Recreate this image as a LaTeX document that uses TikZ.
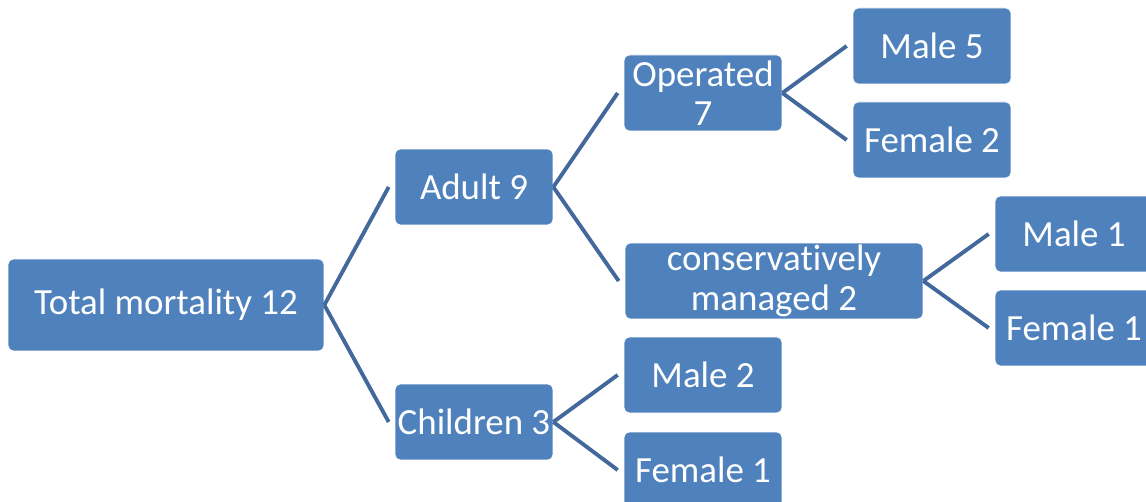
\documentclass[tikz,border=0pt]{standalone}
\usepackage{fontspec}
\setmainfont{Carlito}[Ligatures=NoCommon]
\definecolor{boxblue}{RGB}{79,129,189}
\definecolor{linkblue}{RGB}{66,104,156}
\tikzset{
  leaf/.style={rectangle, rounded corners=3pt, fill=boxblue, draw=white, line width=0.4pt,
    text=white, font=\fontsize{21}{22.5}\selectfont, align=center, inner sep=1pt,
    minimum width=3.16cm, minimum height=1.52cm},
  link/.style={draw=linkblue, line width=2.2pt}
}
\begin{document}
\begin{tikzpicture}[x=0.02cm, y=-0.02cm]
  %%%%% FRAME %%%%%
  \clip (0,0) rectangle (1146,502);
  \fill[white] (0,0) rectangle (1146,502);

  %%%%% BOXES %%%%%
  \node[leaf, minimum width=6.32cm, minimum height=1.84cm] (total) at (166,305) {Total mortality 12};
  \node[leaf] (adult) at (474,187) {Adult 9};
  \node[leaf] (children) at (474,422) {Children 3};
  \node[leaf] (operated) at (703,93) {Operated\\7};
  \node[leaf, minimum width=5.96cm] (conserv) at (774,281) {conservatively\\managed 2};
  \node[leaf] (cmale) at (703,375) {Male 2};
  \node[leaf] (cfemale) at (703,470) {Female 1};
  \node[leaf] (omale) at (932,46) {Male 5};
  \node[leaf] (ofemale) at (932,140) {Female 2};
  \node[leaf] (kmale) at (1074,234) {Male 1};
  \node[leaf] (kfemale) at (1074,328) {Female 1};

  %%%%% LINKS %%%%%
  \draw[link] (total.east) -- ([xshift=-3.4pt]adult.west);
  \draw[link] (total.east) -- ([xshift=-3.4pt]children.west);
  \draw[link] (adult.east) -- ([xshift=-3.4pt]operated.west);
  \draw[link] (adult.east) -- ([xshift=-3.4pt]conserv.west);
  \draw[link] (children.east) -- ([xshift=-3.4pt]cmale.west);
  \draw[link] (children.east) -- ([xshift=-3.4pt]cfemale.west);
  \draw[link] (operated.east) -- ([xshift=-3.4pt]omale.west);
  \draw[link] (operated.east) -- ([xshift=-3.4pt]ofemale.west);
  \draw[link] (conserv.east) -- ([xshift=-3.4pt]kmale.west);
  \draw[link] (conserv.east) -- ([xshift=-3.4pt]kfemale.west);
\end{tikzpicture}
\end{document}
